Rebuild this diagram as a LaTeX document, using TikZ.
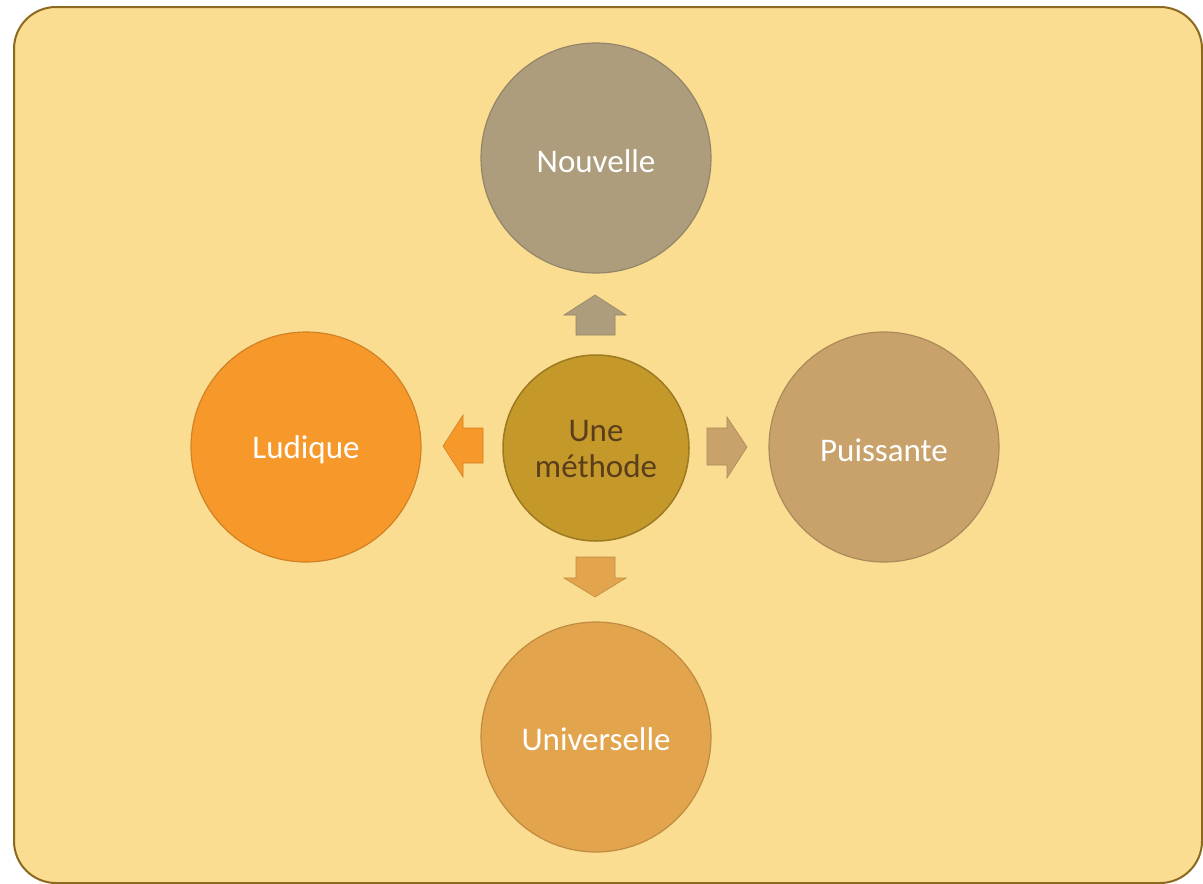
\documentclass[tikz,border=0pt]{standalone}
\usepackage{fontspec}
\setmainfont{Carlito}
\definecolor{bg}{RGB}{250,221,145}
\definecolor{frame}{RGB}{140,105,30}
\definecolor{cNouv}{RGB}{173,157,124}
\definecolor{cPuis}{RGB}{200,162,106}
\definecolor{cUniv}{RGB}{226,164,76}
\definecolor{cLud}{RGB}{247,152,42}
\definecolor{cCent}{RGB}{196,153,42}
\definecolor{cText}{RGB}{90,62,27}
\tikzset{
  outer/.style={circle, minimum size=230pt, inner sep=0pt, draw=#1!85!black, line width=1.2pt, fill=#1},
  center node/.style={circle, minimum size=186pt, inner sep=0pt, draw=cCent!80!black, line width=1.5pt, fill=cCent},
  label text/.style={font=\fontsize{33}{36}\selectfont, align=center},
  blockarrow/.style={fill=#1, draw=#1!85!black, line width=0.6pt}
}
\begin{document}
\begin{tikzpicture}[x=1pt,y=-1pt]
\useasboundingbox (0,0) rectangle (1203,884);
\draw[fill=bg, draw=frame, line width=2pt, rounded corners=42pt] (14,7) rectangle (1202,883);

\node[outer=cNouv] (nouv) at (596,158) {};
\node[outer=cLud] (lud) at (306,447) {};
\node[outer=cPuis] (puis) at (884,447) {};
\node[outer=cUniv] (univ) at (596,737) {};
\node[center node] (meth) at (596,448) {};

\node[label text, text=white] (tnouv) at ([yshift=-3pt]nouv.center) {Nouvelle};
\node[label text, text=white] (tlud) at ([yshift=-3pt]lud.center) {Ludique};
\node[label text, text=white] (tpuis) at ([yshift=-3pt]puis.center) {Puissante};
\node[label text, text=white] (tuniv) at ([yshift=-2pt]univ.center) {Universelle};
\node[label text, text=cText] (tmeth) at ([yshift=-1pt]meth.center) {Une\\méthode};

% up arrow
\draw[blockarrow=cNouv] (576,335) -- (576,315) -- (564,315) -- (595,295) -- (626,315) -- (615,315) -- (615,335) -- cycle;
% right arrow
\draw[blockarrow=cPuis] (707,428) -- (727,428) -- (727,417) -- (747,447) -- (727,478) -- (727,465) -- (707,465) -- cycle;
% down arrow
\draw[blockarrow=cUniv] (576,557) -- (615,557) -- (615,578) -- (626,578) -- (595,597) -- (564,578) -- (576,578) -- cycle;
% left arrow
\draw[blockarrow=cLud] (483,428) -- (463,428) -- (463,415) -- (443,446) -- (463,477) -- (463,463) -- (483,463) -- cycle;
\end{tikzpicture}
\end{document}
